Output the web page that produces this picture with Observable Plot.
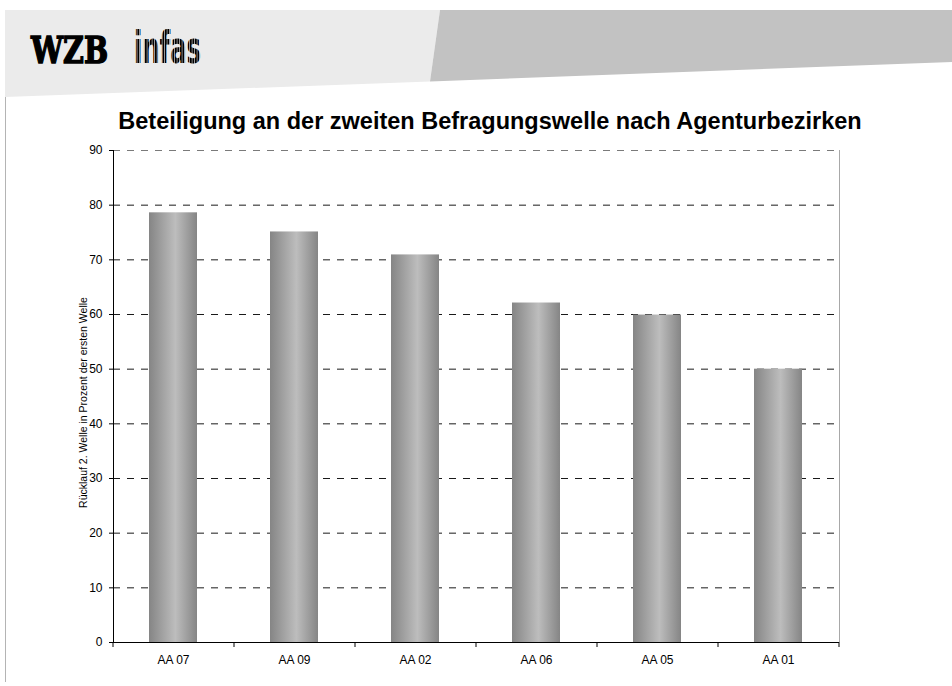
<!DOCTYPE html>
<html>
<head>
<meta charset="utf-8">
<script src="https://cdn.jsdelivr.net/npm/d3@7"></script>
<script src="https://cdn.jsdelivr.net/npm/@observablehq/plot@0.6"></script>
<style>
  body { margin: 0; background: #fff; font-family: "Liberation Sans", Arial, sans-serif; }
  #page { position: relative; width: 952px; height: 686px; overflow: hidden; background: #fff; }
  #banner { position: absolute; left: 0; top: 0; }
  #chart { position: absolute; left: 0; top: 0; }
  #title { position: absolute; left: 0; top: 108px; width: 980px; text-align: center;
           font-weight: bold; font-size: 23.5px; line-height: 27px; color: #000; }
</style>
</head>
<body>
<div id="page">
  <svg id="banner" width="952" height="686">
    <defs>
      <pattern id="stripes" width="2.5" height="10" patternUnits="userSpaceOnUse">
        <rect x="0" y="0" width="1.9" height="10" fill="#000"/>
      </pattern>
    </defs>
    <polygon points="5,10 440,10 430,81.5 5,97" fill="#ebebeb"/>
    <polygon points="440,10 952,10 952,62 430,81.5" fill="#c2c2c2"/>
    <line x1="5.5" y1="97" x2="5.5" y2="682" stroke="#b4b4b4" stroke-width="1"/>
    <text x="31" y="63" font-family="'DejaVu Serif Condensed','DejaVu Serif',serif" font-weight="900"
          font-size="37" textLength="77" lengthAdjust="spacingAndGlyphs" fill="#000" stroke="#000" stroke-width="1.4">WZB</text>
    <text x="134" y="63" font-family="'Liberation Sans Narrow','DejaVu Sans Condensed',sans-serif" font-weight="bold"
          font-size="45" textLength="67" lengthAdjust="spacingAndGlyphs" fill="url(#stripes)">infas</text>
  </svg>
  <div id="chart"></div>
  <div id="title"></div>
</div>
<script>
const titleText = "Beteiligung an der zweiten Befragungswelle nach Agenturbezirken";
const yLabel = "Rücklauf 2. Welle in Prozent der ersten Welle";
const categories = ["AA 07", "AA 09", "AA 02", "AA 06", "AA 05", "AA 01"];
const values = [78.6, 75.1, 70.9, 62.1, 59.9, 50.0];
const yTicks = [0, 10, 20, 30, 40, 50, 60, 70, 80, 90];

const data = categories.map((c, i) => ({category: c, value: values[i]}));
document.getElementById("title").textContent = titleText;

const defsMark = () => {
  const defs = d3.create("svg:defs");
  const g = defs.append("linearGradient").attr("id", "barGrad").attr("x1", "0").attr("x2", "1").attr("y1", "0").attr("y2", "0");
  g.append("stop").attr("offset", "0").attr("stop-color", "#858585");
  g.append("stop").attr("offset", "0.55").attr("stop-color", "#bdbdbd");
  g.append("stop").attr("offset", "1").attr("stop-color", "#858585");
  return defs.node();
};

const frameMark = (index, scales, values, dims) => {
  const {x, y} = scales;
  const left = dims.marginLeft, right = dims.width - dims.marginRight, top = dims.marginTop;
  const y0 = y(0);
  const bw = typeof x.bandwidth === "function" ? x.bandwidth() : 0;
  const step = (right - left) / categories.length;
  const bounds = categories.map(c => x(c) + bw / 2 - step / 2);
  bounds.push(x(categories[categories.length - 1]) + bw / 2 + step / 2);
  const g = d3.create("svg:g").attr("fill", "none");
  g.append("line").attr("x1", right + 0.5).attr("x2", right + 0.5).attr("y1", top).attr("y2", y0).attr("stroke", "#a8a8a8");
  g.append("line").attr("x1", left).attr("x2", right).attr("y1", y0 + 0.5).attr("y2", y0 + 0.5).attr("stroke", "#000");
  g.append("line").attr("x1", left + 0.5).attr("x2", left + 0.5).attr("y1", top).attr("y2", y0).attr("stroke", "#000");
  for (const b of bounds) {
    g.append("line").attr("x1", b + 0.5).attr("x2", b + 0.5).attr("y1", y0).attr("y2", y0 + 5).attr("stroke", "#000");
  }
  return g.node();
};

const chart = Plot.plot({
  width: 952,
  height: 686,
  marginLeft: 113,
  marginRight: 113,
  marginTop: 150,
  marginBottom: 44,
  style: {background: "transparent", color: "#000", fontSize: "12px", fontFamily: "'Liberation Sans', Arial, sans-serif", overflow: "visible"},
  x: {domain: categories, paddingInner: 0.6, paddingOuter: 0.3, label: null, tickSize: 0, tickPadding: 13},
  y: {domain: [0, 90], ticks: yTicks, label: null, tickSize: 4, tickPadding: 7, tickFormat: d => String(d)},
  marks: [
    defsMark,
    Plot.ruleY(yTicks.filter(t => t > 0 && t < 90), {y: d => d, stroke: "#1a1a1a", strokeDasharray: "7,7"}),
    Plot.ruleY(yTicks.filter(t => t === 90), {y: d => d, stroke: "#7a7a7a", strokeDasharray: "7,7"}),
    Plot.barY(data, {x: "category", y: "value", fill: "url(#barGrad)"}),
    frameMark,
    Plot.text([yLabel], {frameAnchor: "left", dx: -30, dy: 6, rotate: -90, textAnchor: "middle", lineAnchor: "middle", fontSize: 10.5, text: d => d, fill: "#000"})
  ]
});
document.getElementById("chart").appendChild(chart);
</script>
</body>
</html>
